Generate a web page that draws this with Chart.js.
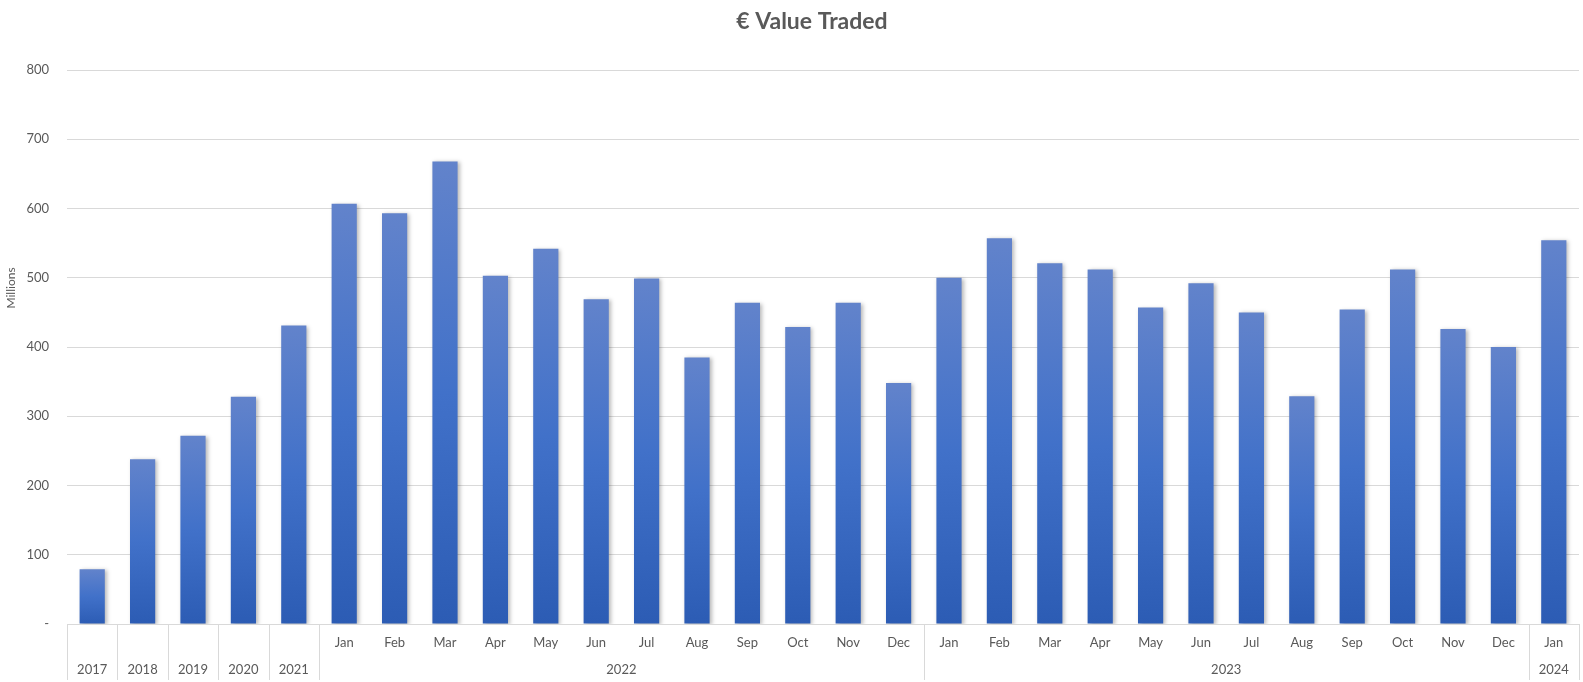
<!DOCTYPE html>
<html>
<head>
<meta charset="utf-8">
<script src="https://cdn.jsdelivr.net/npm/chart.js@4.4.1/dist/chart.umd.min.js"></script>
<style>
  html, body { margin: 0; padding: 0; background: #ffffff; }
  #wrap { width: 1583px; height: 682px; }
</style>
</head>
<body>
<div id="wrap"><canvas id="grafico" width="1583" height="682"></canvas></div>
<script>
// month row of the x axis (blank for the yearly totals)
var monthLabels = ["", "", "", "", "",
    "Jan", "Feb", "Mar", "Apr", "May", "Jun", "Jul", "Aug", "Sep", "Oct", "Nov", "Dec",
    "Jan", "Feb", "Mar", "Apr", "May", "Jun", "Jul", "Aug", "Sep", "Oct", "Nov", "Dec",
    "Jan"];
// year row: label and how many bars it spans
var yearLabels = ["2017", "2018", "2019", "2020", "2021", "2022", "2023", "2024"];
var yearSpans = [1, 1, 1, 1, 1, 12, 12, 1];
// € value traded, millions
var valoresTraded = [79, 238, 272, 328, 431,
    607, 593, 668, 503, 542, 469, 499, 385, 464, 429, 464, 348,
    500, 557, 521, 512, 457, 492, 450, 329, 454, 512, 426, 400,
    554];
var yTicks = [0, 100, 200, 300, 400, 500, 600, 700, 800];
var titulo = "€ Value Traded";

var corTexto = "#595959";
var corGrade = "#d9d9d9";
var fonte = "Lato, 'Open Sans', sans-serif";

function corBarra(c) {
    var chart = c.chart;
    var y = chart.scales.y;
    if (!y || c.type !== "data") return "#4472c4";
    var topo = y.getPixelForValue(c.raw);
    var base = y.getPixelForValue(0);
    if (!isFinite(topo) || !isFinite(base) || topo === base) return "#4472c4";
    var g = chart.ctx.createLinearGradient(0, topo, 0, base);
    g.addColorStop(0, "#6283cb");
    g.addColorStop(0.5, "#4171c9");
    g.addColorStop(1, "#2c5cb4");
    return g;
}

var sombra = {
    id: "sombra",
    beforeDatasetsDraw: function (chart) {
        var ctx = chart.ctx;
        ctx.save();
        ctx.shadowColor = "rgba(0,0,0,0.28)";
        ctx.shadowBlur = 4;
        ctx.shadowOffsetX = 2;
        ctx.shadowOffsetY = 1;
    },
    afterDatasetsDraw: function (chart) {
        chart.ctx.restore();
    }
};

var eixoAnos = {
    id: "eixoAnos",
    afterDraw: function (chart) {
        var ctx = chart.ctx;
        var x = chart.scales.x;
        var area = chart.chartArea;
        var meio = function (i) { return (x.getPixelForValue(i - 1) + x.getPixelForValue(i)) / 2; };
        ctx.save();
        ctx.strokeStyle = corGrade;
        ctx.lineWidth = 1;
        var inicio = 0;
        var bordas = [area.left];
        for (var k = 0; k < yearSpans.length; k++) {
            var fim = inicio + yearSpans[k];
            if (fim < valoresTraded.length) bordas.push(meio(fim));
            inicio = fim;
        }
        bordas.push(area.right);
        bordas.forEach(function (bx) {
            var px = Math.round(bx) + 0.5;
            ctx.beginPath();
            ctx.moveTo(px, area.bottom);
            ctx.lineTo(px, area.bottom + 56);
            ctx.stroke();
        });
        ctx.fillStyle = corTexto;
        ctx.font = "13px " + fonte;
        ctx.textAlign = "center";
        ctx.textBaseline = "middle";
        inicio = 0;
        for (var j = 0; j < yearLabels.length; j++) {
            var a = inicio, b = inicio + yearSpans[j] - 1;
            var cx = (x.getPixelForValue(a) + x.getPixelForValue(b)) / 2;
            ctx.fillText(yearLabels[j], cx, area.bottom + 46);
            inicio += yearSpans[j];
        }
        // chart title (sits a little right of centre, like the original)
        ctx.font = "bold 23px " + fonte;
        ctx.fillText(titulo, 812, 22);
        // axis title
        ctx.translate(11, 288);
        ctx.rotate(-Math.PI / 2);
        ctx.font = "12px " + fonte;
        ctx.fillText("Millions", 0, 0);
        ctx.restore();
    }
};

new Chart(document.getElementById("grafico").getContext("2d"), {
    type: "bar",
    data: {
        labels: monthLabels,
        datasets: [{
            label: titulo,
            data: valoresTraded,
            backgroundColor: corBarra,
            borderWidth: 0,
            categoryPercentage: 1,
            barPercentage: 0.5
        }]
    },
    options: {
        responsive: false,
        animation: false,
        devicePixelRatio: 1,
        layout: { padding: { left: 0, right: 4, top: 70, bottom: 0 } },
        plugins: {
            legend: { display: false },
            tooltip: { enabled: false },
            title: { display: false }
        },
        scales: {
            x: {
                grid: { display: false },
                border: { display: false },
                ticks: {
                    color: corTexto,
                    font: { family: fonte, size: 13 },
                    padding: 3,
                    autoSkip: false,
                    maxRotation: 0
                },
                afterFit: function (s) { s.height = 58; }
            },
            y: {
                min: 0,
                max: 800,
                afterBuildTicks: function (s) {
                    s.ticks = yTicks.map(function (v) { return { value: v }; });
                },
                grid: { color: corGrade, drawTicks: false },
                border: { display: false },
                ticks: {
                    color: corTexto,
                    font: { family: fonte, size: 13 },
                    padding: 18,
                    callback: function (v) { return v === 0 ? "-" : v; }
                },
                afterFit: function (s) { s.width = 67; }
            }
        }
    },
    plugins: [sombra, eixoAnos]
});
</script>
</body>
</html>
